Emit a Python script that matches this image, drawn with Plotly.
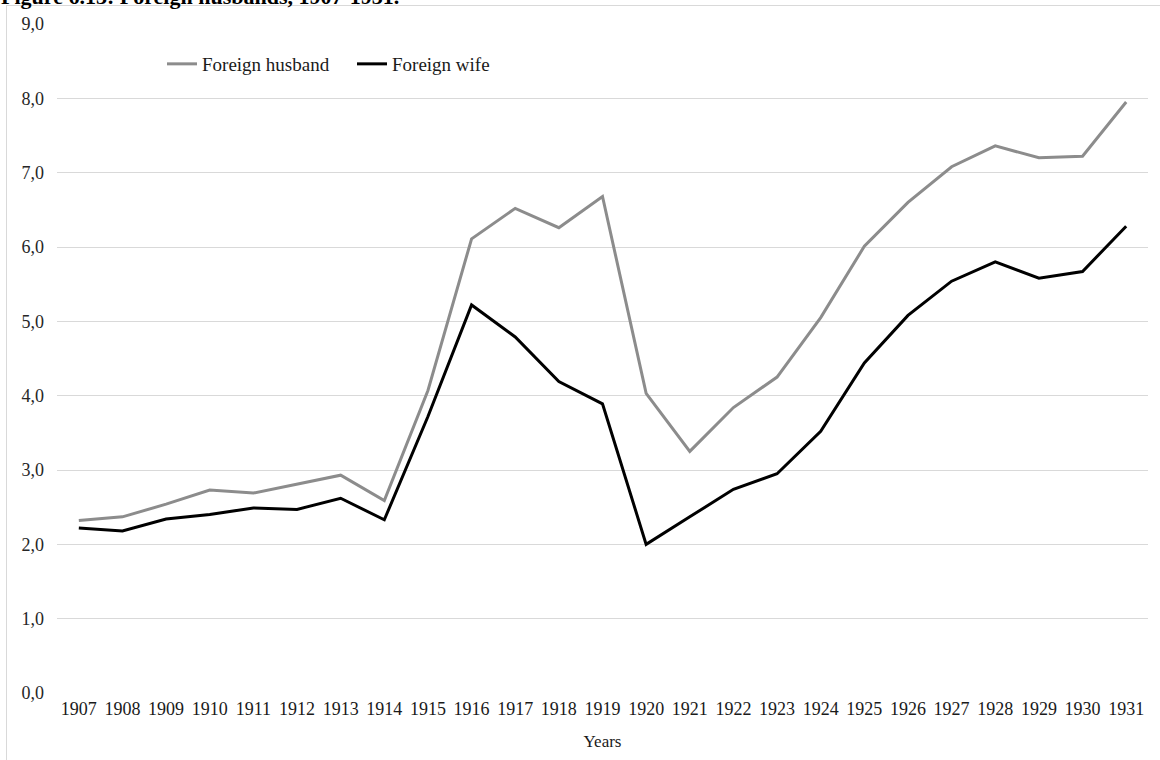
import plotly.graph_objects as go

years = [str(y) for y in range(1907, 1932)]
foreign_husband = [2.32, 2.37, 2.54, 2.73, 2.69, 2.81, 2.93, 2.59, 4.07, 6.11, 6.52, 6.26, 6.68,
                   4.03, 3.25, 3.84, 4.25, 5.05, 6.01, 6.60, 7.08, 7.36, 7.20, 7.22, 7.95]
foreign_wife = [2.22, 2.18, 2.34, 2.40, 2.49, 2.47, 2.62, 2.33, 3.72, 5.22, 4.79, 4.19, 3.89,
                2.00, 2.37, 2.74, 2.95, 3.52, 4.44, 5.08, 5.54, 5.80, 5.58, 5.67, 6.28]
title_text = "Figure 6.13: Foreign husbands, 1907-1931."

W, H = 1160, 760
ML, MR, MT, MB = 57, 12, 24, 67
PW, PH = W - ML - MR, H - MT - MB

def px_x(p):
    return (p - ML) / PW

def px_y(p):
    return (H - MB - p) / PH

FONT = "Liberation Serif, Times New Roman, serif"
GRID = "#d9d9d9"

fig = go.Figure()
fig.add_trace(go.Scatter(x=years, y=foreign_husband, mode="lines", name="Foreign husband",
                         line=dict(color="#8c8c8c", width=3)))
fig.add_trace(go.Scatter(x=years, y=foreign_wife, mode="lines", name="Foreign wife",
                         line=dict(color="#000000", width=3)))

fig.update_layout(
    width=W, height=H,
    margin=dict(l=ML, r=MR, t=MT, b=MB, pad=0),
    paper_bgcolor="white", plot_bgcolor="white",
    separators=",.",
    font=dict(family=FONT, size=18, color="#1a1a1a"),
    showlegend=True,
    legend=dict(orientation="h", x=px_x(162), xanchor="left", y=px_y(64), yanchor="middle",
                font=dict(family=FONT, size=19, color="#1a1a1a"),
                bgcolor="rgba(0,0,0,0)", entrywidth=145, entrywidthmode="pixels",
                itemclick=False),
    xaxis=dict(type="category", range=[-0.5, len(years) - 0.5], showgrid=False,
               showline=False, zeroline=False, ticks="", ticklabelstandoff=3,
               tickfont=dict(size=18, color="#1a1a1a"),
               title=dict(text="Years", font=dict(size=17, color="#1a1a1a"), standoff=17)),
    yaxis=dict(range=[0, 9], dtick=1, tickformat=".1f", showgrid=True, gridcolor=GRID,
               gridwidth=1, zeroline=False, showline=False, ticks="",
               ticklabelstandoff=12,
               tickfont=dict(size=18, color="#262626")),
    shapes=[
        dict(type="line", xref="paper", yref="paper", x0=px_x(6), x1=px_x(1200),
             y0=px_y(5.5), y1=px_y(5.5), line=dict(color=GRID, width=1)),
        dict(type="line", xref="paper", yref="paper", x0=px_x(6.5), x1=px_x(6.5),
             y0=px_y(5), y1=px_y(800), line=dict(color=GRID, width=1)),
    ],
    annotations=[
        dict(text="<b>" + title_text + "</b>", xref="paper", yref="paper",
             x=px_x(-1), xanchor="left", y=px_y(11), yanchor="bottom", showarrow=False,
             font=dict(family=FONT, size=22, color="#000000")),
    ],
)

fig.write_html("out.html", config={"displayModeBar": False},
               post_script="document.body.style.margin='0';")
